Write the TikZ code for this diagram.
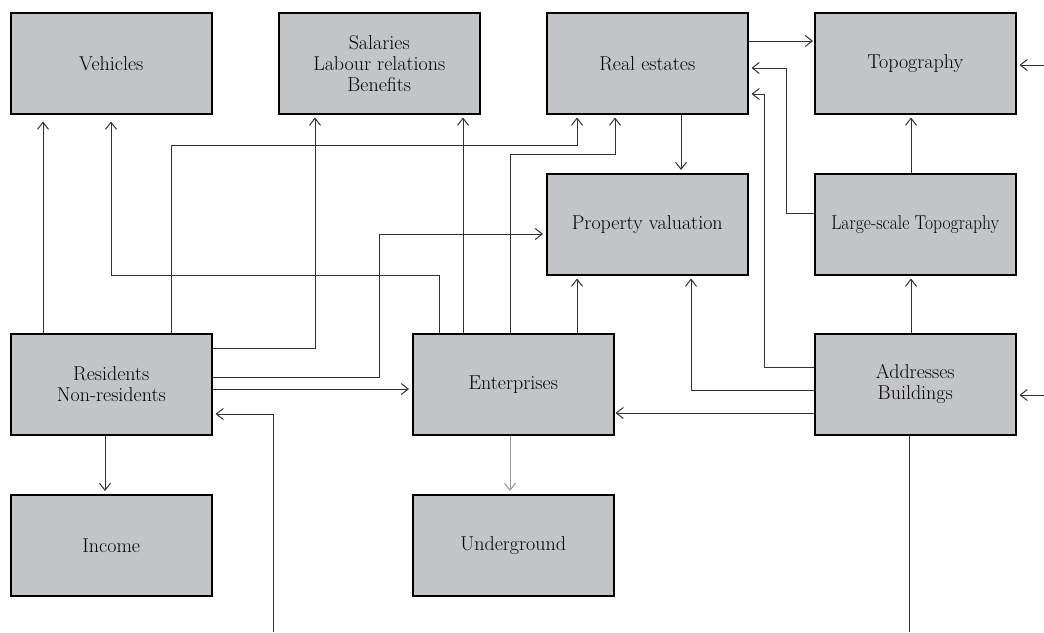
\documentclass[tikz,border=0pt]{standalone}
\usetikzlibrary{arrows.meta}
\definecolor{boxgray}{RGB}{195,196,198}
\definecolor{linegray}{RGB}{50,50,50}
\definecolor{lightline}{RGB}{150,150,150}
\begin{document}
\begin{tikzpicture}[x=1pt,y=-1pt,
  box/.style={draw=black, line width=1.5pt, fill=boxgray, minimum width=201pt,
    minimum height=101pt, inner sep=0pt, anchor=north west, align=center,
    font=\fontsize{20}{21}\selectfont},
  conn/.style={draw=linegray, line width=1pt},
  arr/.style={conn, -{Straight Barb[length=7pt,width=11pt]}, shorten >=3pt},
  farr/.style={arr, shorten >=7pt}]
\useasboundingbox (0,0) rectangle (1044,632);
% boxes
\node[box] (veh)  at (10,12)   {Vehicles};
\node[box] (sal)  at (278,12)  {Salaries\\Labour relations\\Benefits};
\node[box] (re)   at (546,12)  {Real estates};
\node[box] (topo) at (814,12)  {Topography};
\node[box] (pv)   at (546,173) {Property valuation};
\node[box] (lst)  at (814,173) {\scalebox{0.88}[1]{Large-scale Topography}};
\node[box] (res)  at (10,333)  {Residents\\Non-residents};
\node[box] (ent)  at (412,333) {Enterprises};
\node[box] (addr) at (814,333) {Addresses\\Buildings};
\node[box] (inc)  at (10,494)  {Income};
\node[box] (und)  at (412,494) {Underground};
% free ends
\coordinate (inRes)   at (273,632);
\coordinate (inTopo)  at (1044,65);
\coordinate (inAddr)  at (1044,395);
\coordinate (outAddr) at (909,632);
% connectors
\draw[farr] (res.north -| 43,0) -- (veh.south -| 43,0);
\draw[farr] (ent.north -| 439,0) |- (111,275) -- (veh.south -| 111,0);
\draw[arr] (res.north -| 171,0) |- (577,145) -- (re.south -| 577,0);
\draw[arr] (res.east |- 0,348) -| (sal.south -| 315,0);
\draw[arr] (res.east |- 0,377) -| (379,234) -- (pv.west |- 0,234);
\draw[arr] (res.east |- 0,389) -- (ent.west |- 0,389);
\draw[arr] (inRes) |- (res.east |- 0,414);
\draw[arr] (res.south -| 105,0) -- (inc.north -| 105,0);
\draw[arr] (ent.north -| 463,0) -- (sal.south -| 463,0);
\draw[arr] (ent.north -| 510,0) |- (615,154) -- (re.south -| 615,0);
\draw[arr] (ent.north -| 577,0) -- (pv.south -| 577,0);
\draw[arr, draw=lightline] (ent.south -| 510,0) -- (und.north -| 510,0);
\draw[arr] (re.south -| 681,0) -- (pv.north -| 681,0);
\draw[arr, shorten >=1pt] (re.east |- 0,41) -- (topo.west |- 0,41);
\draw[arr] (lst.west |- 0,213) -| (786,68) -- (re.east |- 0,68);
\draw[arr] (addr.west |- 0,367) -| (764,94) -- (re.east |- 0,94);
\draw[arr] (addr.west |- 0,390) -| (pv.south -| 691,0);
\draw[arr, shorten >=1pt] (addr.west |- 0,413) -- (ent.east |- 0,413);
\draw[arr] (addr.north -| 911,0) -- (lst.south -| 911,0);
\draw[arr] (lst.north -| 911,0) -- (topo.south -| 911,0);
\draw[arr] (inTopo) -- (topo.east |- 0,65);
\draw[arr] (inAddr) -- (addr.east |- 0,395);
\draw[conn] (addr.south -| 909,0) -- (outAddr);
\end{tikzpicture}
\end{document}
